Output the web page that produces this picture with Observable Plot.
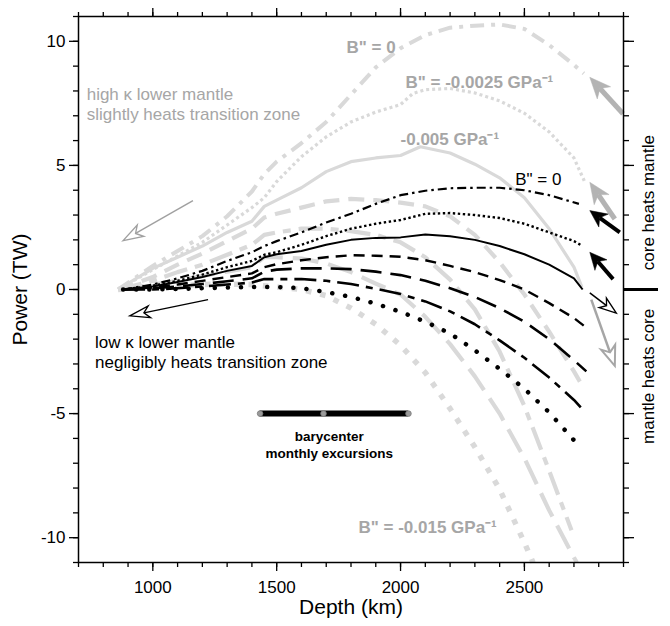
<!DOCTYPE html>
<html>
<head>
<meta charset="utf-8">
<script src="https://cdn.jsdelivr.net/npm/d3@7"></script>
<script src="https://cdn.jsdelivr.net/npm/@observablehq/plot@0.6"></script>
<style>
  html, body { margin: 0; padding: 0; background: #fff; }
</style>
</head>
<body>
<div id="chart"></div>
<script>
// ---------- DATA ----------
// Tick values
const xMajorTicks = [1000, 1500, 2000, 2500];
const xMinorTicks = [700, 800, 900, 1000, 1100, 1200, 1300, 1400, 1500, 1600, 1700, 1800, 1900, 2000, 2100, 2200, 2300, 2400, 2500, 2600, 2700, 2800, 2900];
const yMajorTicks = [-10, -5, 0, 5, 10];
const yMinorTicks = [-11, -10, -9, -8, -7, -6, -5, -4, -3, -2, -1, 0, 1, 2, 3, 4, 5, 6, 7, 8, 9, 10, 11];

// Low kappa lower mantle (black) curves: [depth km, power TW]
const lowB0 = [[880,0],[1000,0.2],[1100,0.45],[1200,0.75],[1300,1.15],[1400,1.5],[1450,1.75],[1500,1.95],[1600,2.3],[1700,2.7],[1800,3.05],[1900,3.45],[2000,3.8],[2100,3.98],[2200,4.08],[2300,4.1],[2400,4.1],[2500,4.0],[2600,3.8],[2720,3.45]];
const lowB1 = [[880,0],[1000,0.15],[1100,0.35],[1200,0.6],[1300,0.9],[1400,1.15],[1450,1.4],[1500,1.5],[1600,1.8],[1700,2.15],[1800,2.45],[1900,2.65],[2000,2.8],[2100,3.05],[2200,3.08],[2300,3.0],[2400,2.88],[2500,2.65],[2600,2.3],[2700,1.95],[2735,1.75]];
const lowB2 = [[880,0],[1000,0.12],[1100,0.3],[1200,0.5],[1300,0.75],[1400,0.95],[1450,1.3],[1500,1.42],[1600,1.55],[1700,1.8],[1800,2.0],[1900,2.08],[2000,2.1],[2100,2.22],[2200,2.15],[2300,2.0],[2400,1.75],[2500,1.42],[2600,1.0],[2700,0.45],[2735,0]];
const lowB3 = [[880,0],[1000,0.08],[1100,0.2],[1200,0.35],[1300,0.5],[1400,0.65],[1450,0.9],[1500,1.02],[1600,1.18],[1700,1.3],[1800,1.38],[1900,1.36],[2000,1.32],[2100,1.18],[2200,0.95],[2300,0.7],[2400,0.38],[2500,0.0],[2600,-0.55],[2700,-1.15],[2745,-1.5]];
const lowB4 = [[880,0],[1000,0.05],[1100,0.12],[1200,0.22],[1300,0.33],[1400,0.45],[1450,0.72],[1500,0.8],[1600,0.85],[1700,0.85],[1800,0.82],[1900,0.72],[2000,0.58],[2100,0.35],[2200,0.05],[2300,-0.3],[2400,-0.75],[2500,-1.3],[2600,-2.0],[2700,-2.85],[2750,-3.3]];
const lowB5 = [[880,0],[1000,0.0],[1100,0.05],[1200,0.12],[1300,0.2],[1400,0.28],[1450,0.42],[1500,0.42],[1600,0.42],[1700,0.35],[1800,0.22],[1900,0.03],[2000,-0.18],[2100,-0.48],[2200,-0.88],[2300,-1.4],[2400,-2.05],[2500,-2.75],[2600,-3.55],[2700,-4.45],[2745,-4.95]];
const lowB6 = [[880,0],[1000,0.0],[1100,0.02],[1200,0.05],[1300,0.08],[1400,0.1],[1500,0.1],[1600,0.05],[1700,-0.1],[1800,-0.3],[1900,-0.57],[2000,-0.9],[2100,-1.3],[2200,-1.77],[2300,-2.45],[2400,-3.2],[2500,-4.0],[2600,-4.95],[2720,-6.3]];

// High kappa lower mantle (gray) curves: [depth km, power TW]
const highB0 = [[860,0],[1000,0.95],[1100,1.55],[1200,2.15],[1300,2.95],[1400,3.95],[1450,4.65],[1500,5.15],[1600,5.9],[1700,6.75],[1800,7.85],[1900,8.95],[2000,9.72],[2100,10.25],[2200,10.55],[2300,10.63],[2400,10.68],[2500,10.5],[2600,9.85],[2700,9.05],[2740,8.7]];
const highB1 = [[860,0],[1000,0.8],[1100,1.35],[1200,1.9],[1300,2.6],[1400,3.3],[1450,3.7],[1500,4.35],[1600,5.35],[1700,6.15],[1800,6.75],[1900,7.15],[2000,7.45],[2050,7.9],[2100,8.05],[2200,8.1],[2300,7.92],[2400,7.6],[2500,7.1],[2600,6.35],[2700,5.3],[2745,4.3]];
const highB2 = [[860,0],[1000,0.85],[1100,1.3],[1200,1.75],[1300,2.3],[1400,2.75],[1450,3.35],[1500,3.6],[1600,4.1],[1700,4.75],[1800,5.15],[1900,5.3],[2000,5.4],[2080,5.75],[2200,5.5],[2300,5.05],[2400,4.5],[2500,3.7],[2600,2.45],[2700,0.9],[2732,0.1]];
const highB3 = [[860,0],[1000,0.5],[1100,1.0],[1200,1.45],[1300,1.95],[1400,2.45],[1450,2.9],[1500,3.05],[1600,3.3],[1700,3.55],[1800,3.65],[1900,3.6],[2000,3.5],[2100,3.35],[2200,2.95],[2300,2.2],[2400,1.1],[2500,-0.2],[2600,-1.7],[2700,-3.3],[2735,-3.9]];
const highB4 = [[860,0],[1000,0.35],[1100,0.7],[1200,1.0],[1300,1.4],[1400,1.8],[1450,2.2],[1500,2.3],[1600,2.45],[1700,2.45],[1800,2.35],[1900,2.2],[2000,1.9],[2100,1.3],[2200,0.4],[2300,-0.8],[2400,-2.5],[2500,-4.7],[2600,-7.3],[2690,-9.7]];
const highB5 = [[860,0],[1000,0.2],[1100,0.35],[1200,0.55],[1300,0.72],[1400,0.9],[1450,1.3],[1500,1.3],[1600,1.25],[1700,1.05],[1800,0.7],[1900,0.24],[2000,-0.2],[2100,-1.1],[2200,-2.2],[2300,-3.5],[2400,-5.0],[2500,-6.8],[2600,-8.9],[2700,-10.8],[2712,-11]];
const highB6 = [[860,0],[1000,0.1],[1100,0.15],[1200,0.2],[1300,0.22],[1400,0.2],[1500,0.1],[1600,0.0],[1700,-0.25],[1800,-0.75],[1900,-1.4],[2000,-2.25],[2100,-3.35],[2200,-4.8],[2300,-6.35],[2400,-8.05],[2500,-10.2],[2535,-11]];

// Barycenter monthly excursions (depth km) at power level
const baryDepths = [1433, 1689, 2032];
const baryPower = -5;

// Arrows: [x tail, y tail, x head, y head]
const grayFilledArrows = [[2900, 7.06, 2766, 8.53], [2867, 2.82, 2766, 4.3]];
const blackFilledArrows = [[2887, 2.28, 2766, 3.16], [2860, 0.4, 2766, 1.48]];
const blackOpenArrows = [[2766, -0.16, 2873, -0.97]];
const grayOpenArrows = [[2772, -0.43, 2867, -3.1]];
const grayThinArrows = [[1164, 3.56, 882, 1.95]];
const blackThinArrows = [[1225, -0.43, 909, -1.08]];

// ---------- STYLES ----------
const grayLine = "#d9d9d9";
const grayText = "#a6a6a6";
const lowSeries = [
  {data: lowB0, w: 2.2, dash: "9,4,2.5,4", cap: "butt"},
  {data: lowB1, w: 2.4, dash: "2.4,2.6", cap: "butt"},
  {data: lowB2, w: 2.0, dash: null, cap: "butt"},
  {data: lowB3, w: 2.4, dash: "11,7", cap: "butt"},
  {data: lowB4, w: 2.6, dash: "21,9", cap: "butt"},
  {data: lowB5, w: 2.6, dash: "22,7,7,7", cap: "butt"},
  {data: lowB6, w: 4.5, dash: "0.1,13", cap: "round"}
];
const highSeries = [
  {data: highB0, w: 4, dash: "14,7,4,7", cap: "butt"},
  {data: highB1, w: 3.2, dash: "3,3", cap: "butt"},
  {data: highB2, w: 3.2, dash: null, cap: "butt"},
  {data: highB3, w: 4.2, dash: "16,9", cap: "butt"},
  {data: highB4, w: 4.2, dash: "24,8,8,8", cap: "butt"},
  {data: highB5, w: 4.2, dash: "26,10", cap: "butt"},
  {data: highB6, w: 5.5, dash: "5.5,9", cap: "butt"}
];

function lineMark(s, color) {
  return Plot.line(s.data, {
    x: d => d[0], y: d => d[1],
    stroke: color, strokeWidth: s.w,
    strokeDasharray: s.dash ?? undefined,
    strokeLinecap: s.cap, strokeLinejoin: "round"
  });
}

function arrowLayer(arrows, {fill, stroke, shaftWidth, headLength, headHalfWidth, headStrokeWidth}) {
  return (index, scales) => {
    const g = d3.create("svg:g");
    for (const [xa, ya, xb, yb] of arrows) {
      const X1 = scales.x(xa), Y1 = scales.y(ya), X2 = scales.x(xb), Y2 = scales.y(yb);
      const L = Math.hypot(X2 - X1, Y2 - Y1);
      const ux = (X2 - X1) / L, uy = (Y2 - Y1) / L;
      const px = -uy, py = ux;
      const bx = X2 - ux * headLength, by = Y2 - uy * headLength;
      const nx = X2 - ux * headLength * 0.72, ny = Y2 - uy * headLength * 0.72;
      g.append("line")
        .attr("x1", X1).attr("y1", Y1).attr("x2", nx).attr("y2", ny)
        .attr("stroke", stroke).attr("stroke-width", shaftWidth);
      g.append("path")
        .attr("d", `M${X2},${Y2}L${bx + px * headHalfWidth},${by + py * headHalfWidth}L${nx},${ny}L${bx - px * headHalfWidth},${by - py * headHalfWidth}Z`)
        .attr("fill", fill).attr("stroke", stroke)
        .attr("stroke-width", headStrokeWidth).attr("stroke-linejoin", "miter");
    }
    return g.node();
  };
}

const tickFmt = d => String(d);
const noLabel = () => "";

const plot = Plot.plot({
  width: 670,
  height: 626,
  marginLeft: 78,
  marginRight: 47,
  marginTop: 16,
  marginBottom: 64,
  x: {domain: [700, 2900], axis: null},
  y: {domain: [-11, 11], axis: null},
  style: {fontFamily: "'Liberation Sans', Arial, sans-serif", fontSize: "17px", background: "#fff", color: "#000", overflow: "visible"},
  marks: [
    // gray (high kappa) curves
    ...highSeries.map(s => lineMark(s, grayLine)),
    // black (low kappa) curves
    ...lowSeries.map(s => lineMark(s, "#000")),

    // barycenter bar
    Plot.ruleY([baryPower], {x1: baryDepths[0], x2: baryDepths[2], stroke: "#000", strokeWidth: 6}),
    Plot.dot(baryDepths, {x: d => d, y: () => baryPower, r: 2.8, fill: "#9a9a9a", stroke: "#7a7a7a", strokeWidth: 0.8}),

    // arrows
    arrowLayer(grayFilledArrows, {fill: "#b3b3b3", stroke: "#b3b3b3", shaftWidth: 5, headLength: 21, headHalfWidth: 9, headStrokeWidth: 0.5}),
    arrowLayer(blackFilledArrows, {fill: "#000", stroke: "#000", shaftWidth: 4, headLength: 17, headHalfWidth: 8, headStrokeWidth: 0.5}),
    arrowLayer(blackOpenArrows, {fill: "#fff", stroke: "#000", shaftWidth: 1.5, headLength: 17, headHalfWidth: 6, headStrokeWidth: 1.3}),
    arrowLayer(grayOpenArrows, {fill: "#fff", stroke: "#a6a6a6", shaftWidth: 2.5, headLength: 20, headHalfWidth: 7.5, headStrokeWidth: 2}),
    arrowLayer(grayThinArrows, {fill: "#fff", stroke: "#a0a0a0", shaftWidth: 1.4, headLength: 20, headHalfWidth: 6.5, headStrokeWidth: 1.4}),
    arrowLayer(blackThinArrows, {fill: "#fff", stroke: "#000", shaftWidth: 1.3, headLength: 20, headHalfWidth: 6, headStrokeWidth: 1.3}),

    // annotations
    Plot.text(["high \u03ba lower mantle\nslightly heats transition zone"], {x: 733, y: 8.2, text: d => d, textAnchor: "start", lineAnchor: "top", fill: grayText, fontSize: 17, lineHeight: 1.18}),
    Plot.text(["low \u03ba lower mantle\nnegligibly heats transition zone"], {x: 767, y: -1.77, text: d => d, textAnchor: "start", lineAnchor: "top", fill: "#000", fontSize: 17, lineHeight: 1.18}),
    Plot.text(["B\" = 0"], {x: 1782, y: 9.73, text: d => d, textAnchor: "start", fill: grayText, fontWeight: "bold", fontSize: 17}),
    Plot.text(["B\" = -0.0025 GPa\u207B\u00B9"], {x: 2020, y: 8.32, text: d => d, textAnchor: "start", fill: grayText, fontWeight: "bold", fontSize: 17}),
    Plot.text(["-0.005 GPa\u207B\u00B9"], {x: 2000, y: 6.06, text: d => d, textAnchor: "start", fill: grayText, fontWeight: "bold", fontSize: 17}),
    Plot.text(["B\" = 0"], {x: 2463, y: 4.45, text: d => d, textAnchor: "start", fill: "#000", fontSize: 17}),
    Plot.text(["B\" = -0.015 GPa\u207B\u00B9"], {x: 1830, y: -9.61, text: d => d, textAnchor: "start", fill: grayText, fontWeight: "bold", fontSize: 17}),
    Plot.text(["barycenter\nmonthly excursions"], {x: 1712, y: -5.62, text: d => d, textAnchor: "middle", lineAnchor: "top", fill: "#000", fontWeight: "bold", fontSize: 13.5, lineHeight: 1.26}),

    // frame and axes
    Plot.frame({stroke: "#000", strokeWidth: 1.5}),
    Plot.axisX(xMinorTicks, {anchor: "bottom", tickSize: 5, tickFormat: noLabel, label: null, strokeWidth: 1.3}),
    Plot.axisX(xMajorTicks, {anchor: "bottom", tickSize: 9, tickPadding: 9, tickFormat: tickFmt, label: null, strokeWidth: 1.3, fontSize: 17}),
    Plot.axisX(xMinorTicks, {anchor: "top", tickSize: 5, tickFormat: noLabel, label: null, strokeWidth: 1.3}),
    Plot.axisX(xMajorTicks, {anchor: "top", tickSize: 9, tickFormat: noLabel, label: null, strokeWidth: 1.3}),
    Plot.axisY(yMinorTicks, {anchor: "left", tickSize: 5, tickFormat: noLabel, label: null, strokeWidth: 1.3}),
    Plot.axisY(yMajorTicks, {anchor: "left", tickSize: 9, tickPadding: 4, tickFormat: tickFmt, label: null, strokeWidth: 1.3, fontSize: 17}),
    Plot.axisY(yMinorTicks, {anchor: "right", tickSize: 5, tickFormat: noLabel, label: null, strokeWidth: 1.3}),
    Plot.axisY(yMajorTicks, {anchor: "right", tickSize: 10, tickFormat: noLabel, label: null, strokeWidth: 1.3}),
    Plot.axisY([0], {anchor: "right", tickSize: 34, tickFormat: noLabel, label: null, strokeWidth: 3}),

    // axis titles and side labels
    Plot.text(["Depth (km)"], {frameAnchor: "bottom", dy: 51, textAnchor: "middle", text: d => d, fontSize: 21, fill: "#000"}),
    Plot.text(["Power (TW)"], {frameAnchor: "left", dx: -58, rotate: -90, textAnchor: "middle", text: d => d, fontSize: 21, fill: "#000"}),
    Plot.text(["core heats mantle"], {frameAnchor: "right", y: 3.5, dx: 25, rotate: -90, textAnchor: "middle", text: d => d, fontSize: 17, fill: "#000"}),
    Plot.text(["mantle heats core"], {frameAnchor: "right", y: -3.5, dx: 25, rotate: -90, textAnchor: "middle", text: d => d, fontSize: 17, fill: "#000"})
  ]
});
document.getElementById("chart").appendChild(plot);
</script>
</body>
</html>
